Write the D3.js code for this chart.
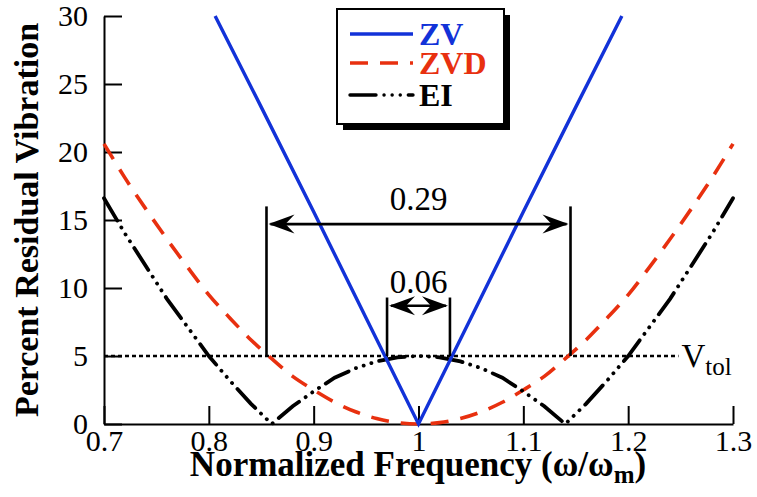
<!DOCTYPE html>
<html>
<head>
<meta charset="utf-8">
<script src="https://cdn.jsdelivr.net/npm/d3@7"></script>
<style>
  html, body { margin: 0; padding: 0; background: #fff; }
  svg { display: block; }
</style>
</head>
<body>
<svg id="chart" width="757" height="497" style="font-family: 'Liberation Serif', 'DejaVu Serif', serif;"></svg>
<script>
// Residual vibration (%) of three input shapers versus normalized frequency.
const freq = [0.70, 0.72, 0.74, 0.76, 0.78, 0.80, 0.82, 0.84, 0.86, 0.88, 0.90, 0.92, 0.94, 0.96, 0.98,
              1.00, 1.02, 1.04, 1.06, 1.08, 1.10, 1.12, 1.14, 1.16, 1.18, 1.20, 1.22, 1.24, 1.26, 1.28, 1.30];

const zvFreq = [0.806, 0.85, 0.90, 0.95, 1.00, 1.05, 1.10, 1.15, 1.194];
const zvValues = [30.0, 23.3, 15.6, 7.8, 0.0, 7.8, 15.6, 23.3, 30.0];

const zvdValues = [20.6, 18.1, 15.8, 13.6, 11.5, 9.5, 7.8, 6.2, 4.8, 3.5, 2.5, 1.6, 0.9, 0.4, 0.1,
                   0.0, 0.1, 0.4, 0.9, 1.6, 2.5, 3.5, 4.8, 6.2, 7.8, 9.5, 11.5, 13.6, 15.8, 18.1, 20.6];

const eiValues = [16.6, 14.0, 11.6, 9.2, 7.1, 5.0, 3.2, 1.5, 0.0, 1.3, 2.4, 3.4, 4.1, 4.6, 4.9,
                  5.0, 4.9, 4.6, 4.1, 3.4, 2.4, 1.3, 0.0, 1.5, 3.2, 5.0, 7.1, 9.2, 11.6, 14.0, 16.6];

const xTicks = [0.7, 0.8, 0.9, 1.0, 1.1, 1.2, 1.3];
const xTickLabels = ["0.7", "0.8", "0.9", "1", "1.1", "1.2", "1.3"];
const yTicks = [0, 5, 10, 15, 20, 25, 30];

const vTol = 5;
const vTolEnd = 1.248;

// Insensitivity spans at the tolerance level, centred on the modelled frequency
const spanWidths = [0.29, 0.06];
const spanTops = [16.0, 9.3];
const spanArrows = [14.7, 8.7];
const spanLabelY = [15.7, 9.6];

const seriesNames = ["ZV", "ZVD", "EI"];
const seriesColors = ["#1232d8", "#e8300f", "#000000"];

const FONT = "'Liberation Serif', 'DejaVu Serif', serif";

const svg = d3.select("#chart");
const x = d3.scaleLinear().domain([0.7, 1.3]).range([104, 733]);
const y = d3.scaleLinear().domain([0, 30]).range([424, 16]);

// Axes with inward ticks
const yAxis = d3.axisLeft(y).tickValues(yTicks).tickSizeInner(-18).tickSizeOuter(0).tickPadding(16);
const xAxis = d3.axisBottom(x).tickValues(xTicks).tickSizeInner(-18).tickSizeOuter(0).tickPadding(6)
  .tickFormat((d, i) => xTickLabels[i]);

const gy = svg.append("g").attr("transform", `translate(${x.range()[0]},0)`).call(yAxis);
const gx = svg.append("g").attr("transform", `translate(0,${y.range()[0]})`).call(xAxis);
[gx, gy].forEach(g => {
  g.attr("font-family", FONT).attr("font-size", 30);
  g.selectAll("path.domain").attr("stroke", "#000").attr("stroke-width", 2);
  g.selectAll(".tick line").attr("stroke", "#000").attr("stroke-width", 2);
  g.selectAll(".tick text").attr("fill", "#000");
});

// Tolerance line
svg.append("line")
  .attr("x1", x(0.7)).attr("x2", x(vTolEnd))
  .attr("y1", y(vTol)).attr("y2", y(vTol))
  .attr("stroke", "#000").attr("stroke-width", 2.6).attr("stroke-dasharray", "4,3");

const vt = svg.append("text").attr("x", x(vTolEnd) + 3).attr("y", y(vTol) + 11)
  .attr("font-family", FONT).attr("font-size", 33);
vt.append("tspan").text("V");
vt.append("tspan").attr("dy", 8).attr("font-size", 25).text("tol");

// Curves
const line = d3.line().x(d => x(d[0])).y(d => y(d[1]));

svg.append("path")
  .datum(freq.map((f, i) => [f, zvdValues[i]]))
  .attr("d", line.curve(d3.curveCatmullRom))
  .attr("fill", "none").attr("stroke", seriesColors[1]).attr("stroke-width", 3.6)
  .attr("stroke-dasharray", "18,12");

svg.append("path")
  .datum(freq.map((f, i) => [f, eiValues[i]]))
  .attr("d", line.curve(d3.curveLinear))
  .attr("fill", "none").attr("stroke", seriesColors[2]).attr("stroke-width", 3.8)
  .attr("stroke-linecap", "round")
  .attr("stroke-dasharray", "26,8,0.1,8,0.1,8,0.1,8");

svg.append("path")
  .datum(zvFreq.map((f, i) => [f, zvValues[i]]))
  .attr("d", line.curve(d3.curveLinear))
  .attr("fill", "none").attr("stroke", seriesColors[0]).attr("stroke-width", 3.4);

// Dimension markers for the insensitivity widths
function arrowHead(tipX, tipY, dir) {
  const L = 26, w = 9.5, n = 17;
  return `M${tipX},${tipY} L${tipX + dir * L},${tipY - w} L${tipX + dir * n},${tipY} L${tipX + dir * L},${tipY + w} Z`;
}

spanWidths.forEach((wd, i) => {
  const x0 = x(1 - wd / 2), x1 = x(1 + wd / 2);
  const g = svg.append("g");
  [x0, x1].forEach(xx => {
    g.append("line").attr("x1", xx).attr("x2", xx)
      .attr("y1", y(vTol)).attr("y2", y(spanTops[i]))
      .attr("stroke", "#000").attr("stroke-width", 2.6);
  });
  const ay = y(spanArrows[i]);
  g.append("line").attr("x1", x0 + 4).attr("x2", x1 - 4).attr("y1", ay).attr("y2", ay)
    .attr("stroke", "#000").attr("stroke-width", 2.6);
  g.append("path").attr("d", arrowHead(x0 + 2, ay, 1)).attr("fill", "#000");
  g.append("path").attr("d", arrowHead(x1 - 2, ay, -1)).attr("fill", "#000");
  g.append("text").attr("x", (x0 + x1) / 2).attr("y", y(spanLabelY[i]))
    .attr("text-anchor", "middle").attr("font-family", FONT).attr("font-size", 33)
    .text(wd.toFixed(2));
});

// Legend
const lg = svg.append("g").attr("transform", "translate(337,9)");
lg.append("rect").attr("x", 6).attr("y", 6).attr("width", 167).attr("height", 115).attr("fill", "#000");
lg.append("rect").attr("x", 0).attr("y", 0).attr("width", 167).attr("height", 115)
  .attr("fill", "#fff").attr("stroke", "#000").attr("stroke-width", 2);
const legRows = [25, 54, 86];
const legDash = [null, "18,12", "26,8,0.1,8,0.1,8,0.1,8"];
seriesNames.forEach((name, i) => {
  lg.append("line").attr("x1", 13).attr("x2", 76).attr("y1", legRows[i]).attr("y2", legRows[i])
    .attr("stroke", seriesColors[i]).attr("stroke-width", 3.4)
    .attr("stroke-linecap", i === 2 ? "round" : "butt")
    .attr("stroke-dasharray", legDash[i]);
  lg.append("text").attr("x", 82).attr("y", legRows[i] + 11)
    .attr("font-family", FONT).attr("font-size", 32).attr("font-weight", "bold")
    .attr("fill", seriesColors[i]).text(name);
});

// Axis titles
svg.append("text")
  .attr("transform", `translate(38,${(16 + 424) / 2}) rotate(-90)`)
  .attr("text-anchor", "middle").attr("font-family", FONT).attr("font-size", 34).attr("font-weight", "bold")
  .text("Percent Residual Vibration");

const xt = svg.append("text").attr("x", 418).attr("y", 476)
  .attr("text-anchor", "middle").attr("font-family", FONT).attr("font-size", 35).attr("font-weight", "bold");
xt.append("tspan").text("Normalized Frequency (ω/ω");
xt.append("tspan").attr("dy", 7).attr("font-size", 25).text("m");
xt.append("tspan").attr("dy", -7).text(")");
</script>
</body>
</html>
